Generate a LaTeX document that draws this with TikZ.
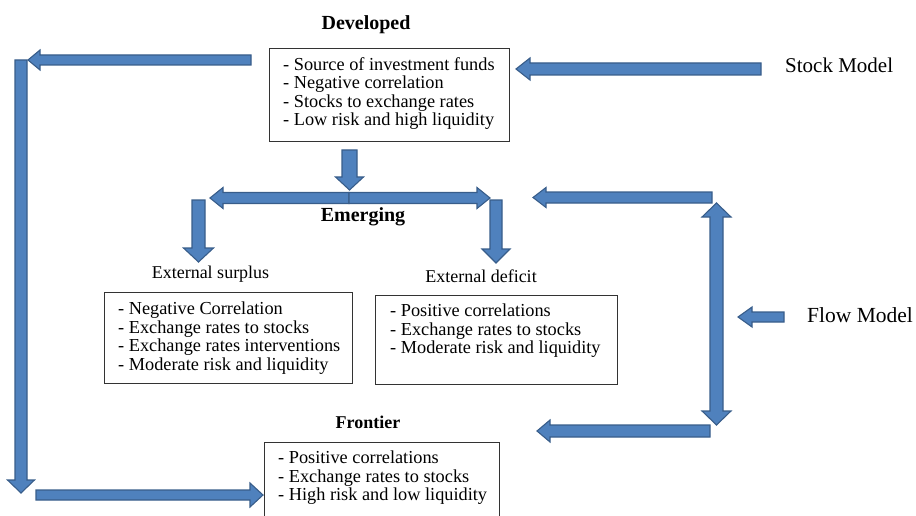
\documentclass[tikz,border=0pt]{standalone}
\usepackage{fontspec}
\setmainfont{Liberation Serif}
\usetikzlibrary{calc}

\definecolor{arrowfill}{HTML}{4F81BD}
\definecolor{arrowline}{HTML}{385D8A}

% Block arrow from #1 to #2: shaft half-width #3, head half-width #4, head length #5
\newcommand{\blockarrow}[5]{%
  \coordinate (ba-h) at ($(#2)!#5!(#1)$);
  \filldraw[blockarrow]
    ($(#1)!#3!90:(#2)$) -- ($(ba-h)!#3!90:(#2)$) -- ($(ba-h)!#4!90:(#2)$) -- (#2)
    -- ($(ba-h)!#4!-90:(#2)$) -- ($(ba-h)!#3!-90:(#2)$) -- ($(#1)!#3!-90:(#2)$) -- cycle;
}
% Block arrow with a head at both ends
\newcommand{\dblockarrow}[5]{%
  \coordinate (ba-a) at ($(#1)!#5!(#2)$);
  \coordinate (ba-b) at ($(#2)!#5!(#1)$);
  \filldraw[blockarrow]
    (#1) -- ($(ba-a)!#4!90:(#2)$) -- ($(ba-a)!#3!90:(#2)$) -- ($(ba-b)!#3!90:(#2)$)
    -- ($(ba-b)!#4!90:(#2)$) -- (#2) -- ($(ba-b)!#4!-90:(#2)$) -- ($(ba-b)!#3!-90:(#2)$)
    -- ($(ba-a)!#3!-90:(#2)$) -- ($(ba-a)!#4!-90:(#2)$) -- cycle;
}

\begin{document}
\begin{tikzpicture}[x=1pt,y=-1pt,
  blockarrow/.style={fill=arrowfill, draw=arrowline, line width=1.1pt, line join=miter},
  infobox/.style={draw=black!80, line width=0.9pt, inner sep=0pt, outer sep=0pt, anchor=north west},
  boxtext/.style={font=\fontsize{18.3}{18.5}\selectfont, align=left, anchor=north west, inner sep=0pt},
  heading/.style={font=\fontsize{20}{24}\selectfont\bfseries, anchor=base, inner sep=0pt},
  sublabel/.style={font=\fontsize{18}{22}\selectfont, anchor=base, inner sep=0pt},
  modellabel/.style={font=\fontsize{21}{24}\selectfont, anchor=base west, inner sep=0pt}]

\useasboundingbox (0,0) rectangle (916,516);

% ---- headings and labels ----
\node[heading] (developed) at (366,30) {Developed};
\node[heading] (emerging) at (363,221) {Emerging};
\node[heading, font=\fontsize{18}{22}\selectfont\bfseries] (frontier) at (368,428) {Frontier};
\node[sublabel] (surplus) at (210.5,278) {External surplus};
\node[sublabel] (deficit) at (481,282) {External deficit};
\node[modellabel] (stock) at (785,73) {Stock Model};
\node[modellabel, font=\fontsize{21.5}{24}\selectfont] (flow) at (807,322) {Flow Model};

% ---- boxes ----
\node[infobox, minimum width=240, minimum height=93] (devbox) at (269,48) {};
\node[boxtext] (devtext) at (283,57)
  {- Source of investment funds\\- Negative correlation\\- Stocks to exchange rates\\- Low risk and high liquidity};

\node[infobox, minimum width=248, minimum height=91] (surplusbox) at (104,292) {};
\node[boxtext] (surplustext) at (118,302)
  {- Negative Correlation\\- Exchange rates to stocks\\- Exchange rates interventions\\- Moderate risk and liquidity};

\node[infobox, minimum width=242, minimum height=89] (deficitbox) at (375,295) {};
\node[boxtext] (deficittext) at (390,304)
  {- Positive correlations\\- Exchange rates to stocks\\- Moderate risk and liquidity};

\node[infobox, minimum width=235, minimum height=100] (frontierbox) at (264,442) {};
\node[boxtext] (frontiertext) at (278,451)
  {- Positive correlations\\- Exchange rates to stocks\\- High risk and low liquidity};

% ---- arrow end points ----
\coordinate (devleft-s) at (251,60);
\coordinate (devleft-e) at (28,60);
\coordinate (side-s) at (21,60);
\coordinate (side-e) at (21,493);
\coordinate (bottom-s) at (36,495);
\coordinate (bottom-e) at (263,495);
\coordinate (stock-s) at (761,69);
\coordinate (stock-e) at (516,69);
\coordinate (devdown-s) at (349.5,150);
\coordinate (devdown-e) at (349.5,190);
\coordinate (split) at (349,198);
\coordinate (split-l) at (210,198);
\coordinate (split-r) at (490,198);
\coordinate (surdown-s) at (198.5,200);
\coordinate (surdown-e) at (198.5,262);
\coordinate (defdown-s) at (496,200);
\coordinate (defdown-e) at (496,263);
\coordinate (upper-s) at (712,197.5);
\coordinate (upper-e) at (533,197.5);
\coordinate (vert-t) at (716.5,203);
\coordinate (vert-b) at (716.5,425);
\coordinate (lower-s) at (710,431);
\coordinate (lower-e) at (537,431);
\coordinate (flow-s) at (784,317);
\coordinate (flow-e) at (738,317);

% ---- block arrows ----
\blockarrow{side-s}{side-e}{6pt}{13.5pt}{13pt}
\blockarrow{devleft-s}{devleft-e}{5pt}{10pt}{12pt}
\blockarrow{bottom-s}{bottom-e}{5pt}{12pt}{13pt}
\blockarrow{stock-s}{stock-e}{6pt}{11pt}{14pt}
\blockarrow{devdown-s}{devdown-e}{7.5pt}{14pt}{13pt}
\blockarrow{split}{split-l}{5.5pt}{10.5pt}{13pt}
\blockarrow{split}{split-r}{5.5pt}{10.5pt}{13pt}
\blockarrow{surdown-s}{surdown-e}{6.5pt}{15pt}{14pt}
\blockarrow{defdown-s}{defdown-e}{6pt}{14pt}{14pt}
\blockarrow{upper-s}{upper-e}{5.5pt}{10pt}{13pt}
\dblockarrow{vert-t}{vert-b}{6.5pt}{14.5pt}{14pt}
\blockarrow{lower-s}{lower-e}{6pt}{11pt}{13pt}
\blockarrow{flow-s}{flow-e}{5pt}{10pt}{14pt}

\end{tikzpicture}
\end{document}
